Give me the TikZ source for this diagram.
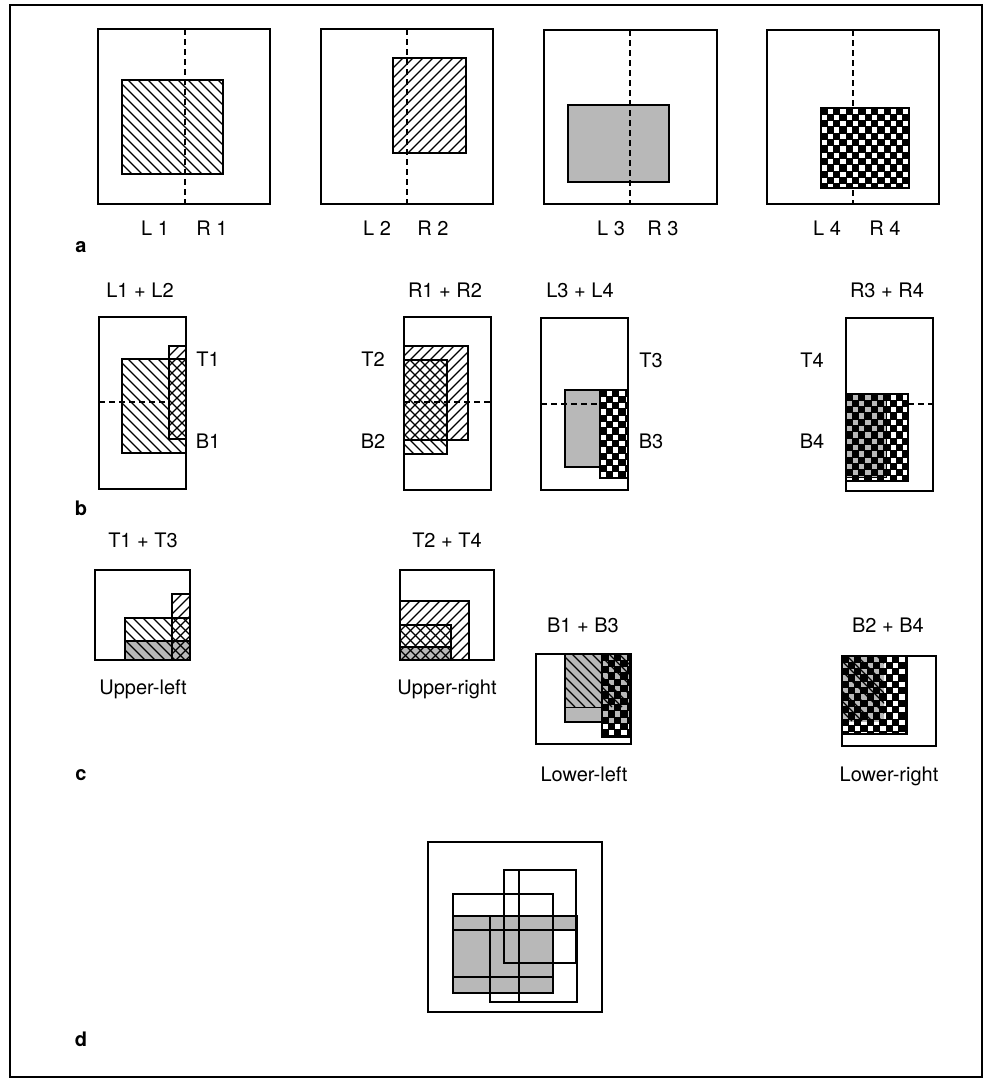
\documentclass[tikz,border=0pt]{standalone}
\usepackage{fontspec}
\setmainfont{TeX Gyre Heros}
\definecolor{fillgray}{gray}{0.72}
\tikzset{
  frame/.style={draw=black, line width=1.6pt},
  box/.style={draw=black, line width=1.5pt},
  hline/.style={line width=1.1pt},
  dashline/.style={draw=black, line width=1.3pt, dash pattern=on 6pt off 4pt},
  lbl/.style={font=\fontsize{20}{22}\selectfont, anchor=base, inner sep=0pt},
  panel/.style={font=\bfseries\fontsize{20}{22}\selectfont, anchor=base, inner sep=0pt},
  heavy/.style={draw=black, line width=2.2pt}
}
% "\" hatching inside rectangle x0,y0,x1,y1 (y downward)
\newcommand\hatchNW[4]{%
  \begin{scope}
    \clip (#1,#2) rectangle (#3,#4);
    \pgfmathsetmacro\hatchH{#4-#2}
    \pgfmathsetmacro\hatchA{#1-\hatchH}
    \pgfmathsetmacro\hatchB{\hatchA+10}
    \foreach \t in {\hatchA,\hatchB,...,#3} {\draw[hline] (\t,#2) -- ++(\hatchH,\hatchH);}
  \end{scope}}
% "/" hatching
\newcommand\hatchNE[4]{%
  \begin{scope}
    \clip (#1,#2) rectangle (#3,#4);
    \pgfmathsetmacro\hatchH{#4-#2}
    \pgfmathsetmacro\hatchA{#1-\hatchH}
    \pgfmathsetmacro\hatchB{\hatchA+10}
    \foreach \t in {\hatchA,\hatchB,...,#3} {\draw[hline] (\t,#4) -- ++(\hatchH,-\hatchH);}
  \end{scope}}
% checkerboard, anchored at top-left corner
\newcommand\checker[5]{%
  \begin{scope}
    \clip (#1,#2) rectangle (#3,#4);
    \fill[black] (#1,#2) rectangle (#3,#4);
    \pgfmathtruncatemacro\ckNI{ceil((#3-#1)/6.3)}
    \pgfmathtruncatemacro\ckNJ{ceil((#4-#2)/6.3)}
    \foreach \i in {0,...,\ckNI}{\foreach \j in {0,...,\ckNJ}{%
      \ifodd\numexpr\i+\j\relax
        \fill[#5] ({#1+\i*6.3+0.5},{#2+\j*6.3+0.5}) rectangle ++(5.3,5.3);
      \fi}}
  \end{scope}}
\begin{document}
\begin{tikzpicture}[x=1pt,y=-1pt]
\useasboundingbox (0,0) rectangle (986,1079);
\fill[white] (0,0) rectangle (986,1079);
\draw[frame] (10,5) rectangle (982,1077);

% ---------------- panel a ----------------
\draw[box] (98,29) rectangle (270,204);
\hatchNW{122}{80}{223}{174}
\draw[box] (122,80) rectangle (223,174);
\draw[dashline] (185,29) -- (185,204);

\draw[box] (321,29) rectangle (493,204);
\hatchNE{393}{58}{466}{153}
\draw[box] (393,58) rectangle (466,153);
\draw[dashline] (407,29) -- (407,204);

\draw[box] (544,30) rectangle (717,204);
\fill[fillgray] (568,105) rectangle (669,182);
\draw[box] (568,105) rectangle (669,182);
\draw[dashline] (630,30) -- (630,204);

\draw[box] (767,30) rectangle (939,204);
\draw[dashline] (853,30) -- (853,204);
\checker{821}{108}{909}{188}{white}
\draw[box] (821,108) rectangle (909,188);

\node[lbl] (l1) at (155,235) {L 1};
\node[lbl] (r1) at (212,235) {R 1};
\node[lbl] (l2) at (377,235) {L 2};
\node[lbl] (r2) at (433,235) {R 2};
\node[lbl] (l3) at (611,235) {L 3};
\node[lbl] (r3) at (663,235) {R 3};
\node[lbl] (l4) at (827,235) {L 4};
\node[lbl] (r4) at (885,235) {R 4};
\node[panel] (pa) at (81,252) {a};

% ---------------- panel b ----------------
\node[lbl] (hl12) at (140,297) {L1 + L2};
\node[lbl] (hr12) at (445,297) {R1 + R2};
\node[lbl] (hl34) at (580,297) {L3 + L4};
\node[lbl] (hr34) at (887,297) {R3 + R4};

\draw[box] (99,317) rectangle (186,489);
\draw[dashline] (99,402) -- (169,402);
\hatchNW{122}{359}{186}{453}
\hatchNE{169}{346}{186}{439}
\draw[box] (122,359) rectangle (186,453);
\draw[box] (169,346) rectangle (186,439);
\node[lbl] (t1) at (208,366) {T1};
\node[lbl] (b1) at (208,448) {B1};

\draw[box] (404,317) rectangle (491,490);
\draw[dashline] (404,402) -- (491,402);
\hatchNE{404}{346}{468}{440}
\hatchNW{404}{360}{447}{454}
\draw[box] (404,346) rectangle (468,440);
\draw[box] (404,360) rectangle (447,454);
\node[lbl] (t2) at (373,366) {T2};
\node[lbl] (b2) at (373,448) {B2};

\draw[box] (541,318) rectangle (628,490);
\fill[fillgray] (565,390) rectangle (600,467);
\draw[box] (565,390) rectangle (600,467);
\draw[dashline] (541,404) -- (600,404);
\checker{600}{390}{628}{478}{white}
\draw[box] (600,390) rectangle (628,478);
\node[lbl] (t3) at (651,367) {T3};
\node[lbl] (b3) at (651,448) {B3};

\draw[box] (846,318) rectangle (933,491);
\draw[dashline] (908,404) -- (933,404);
\checker{846}{394}{908}{481}{white}
\checker{846}{394}{886}{477}{fillgray}
\draw[box] (846,394) rectangle (908,481);
\draw[line width=0.8pt] (886,394) -- (886,477) -- (846,477);
\node[lbl] (t4) at (812,367) {T4};
\node[lbl] (b4) at (812,448) {B4};
\node[panel] (pb) at (81,515) {b};

% ---------------- panel c ----------------
\node[lbl] (ht13) at (143,547) {T1 + T3};
\draw[box] (95,570) rectangle (190,660);
\fill[fillgray] (125,641) rectangle (190,660);
\hatchNE{172}{594}{190}{660}
\hatchNW{125}{618}{190}{660}
\draw[box] (172,594) rectangle (190,660);
\draw[box] (125,618) rectangle (190,660);
\draw[box] (125,641) -- (190,641);
\node[lbl] (ul) at (143,694) {Upper-left};

\node[lbl] (ht24) at (447,547) {T2 + T4};
\draw[box] (400,570) rectangle (494,660);
\fill[fillgray] (400,647) rectangle (451,660);
\hatchNE{400}{601}{469}{660}
\hatchNW{400}{625}{451}{660}
\draw[box] (400,601) rectangle (469,660);
\draw[box] (400,625) rectangle (451,660);
\draw[box] (400,647) -- (451,647);
\node[lbl] (ur) at (447,694) {Upper-right};

\node[lbl] (hb13) at (583,632) {B1 + B3};
\draw[box] (536,654) rectangle (631,744);
\fill[fillgray] (565,654) rectangle (602,722);
\hatchNW{565}{654}{602}{707}
\draw[box] (565,654) rectangle (602,722);
\draw[line width=0.8pt] (565,707) -- (602,707);
\checker{602}{654}{630}{737}{white}
\checker{602}{654}{630}{722}{fillgray}
\hatchNW{602}{654}{630}{707}
\draw[box] (602,654) rectangle (630,737);
\node[lbl] (ll) at (584,781) {Lower-left};

\node[lbl] (hb24) at (888,632) {B2 + B4};
\draw[box] (842,656) rectangle (936,746);
\checker{842}{656}{907}{734}{white}
\checker{842}{656}{884}{721}{fillgray}
\hatchNW{842}{656}{884}{721}
\draw[box] (842,656) rectangle (907,734);
\node[lbl] (lr) at (889,781) {Lower-right};
\node[panel] (pc) at (81,780) {c};

% ---------------- panel d ----------------
\draw[box] (428,842) rectangle (602,1012);
\fill[fillgray] (453,916) rectangle (553,993);
\fill[fillgray] (553,916) rectangle (576,930);
\draw[heavy] (453,894) rectangle (553,993);
\draw[heavy] (504,870) rectangle (576,963);
\draw[heavy] (519,870) -- (519,1002);
\draw[heavy] (490,916) rectangle (577,1002);
\draw[heavy] (453,916) -- (577,916);
\draw[heavy] (453,930) -- (577,930);
\draw[heavy] (453,977) -- (553,977);
\node[panel] (pd) at (81,1046) {d};
\end{tikzpicture}
\end{document}
